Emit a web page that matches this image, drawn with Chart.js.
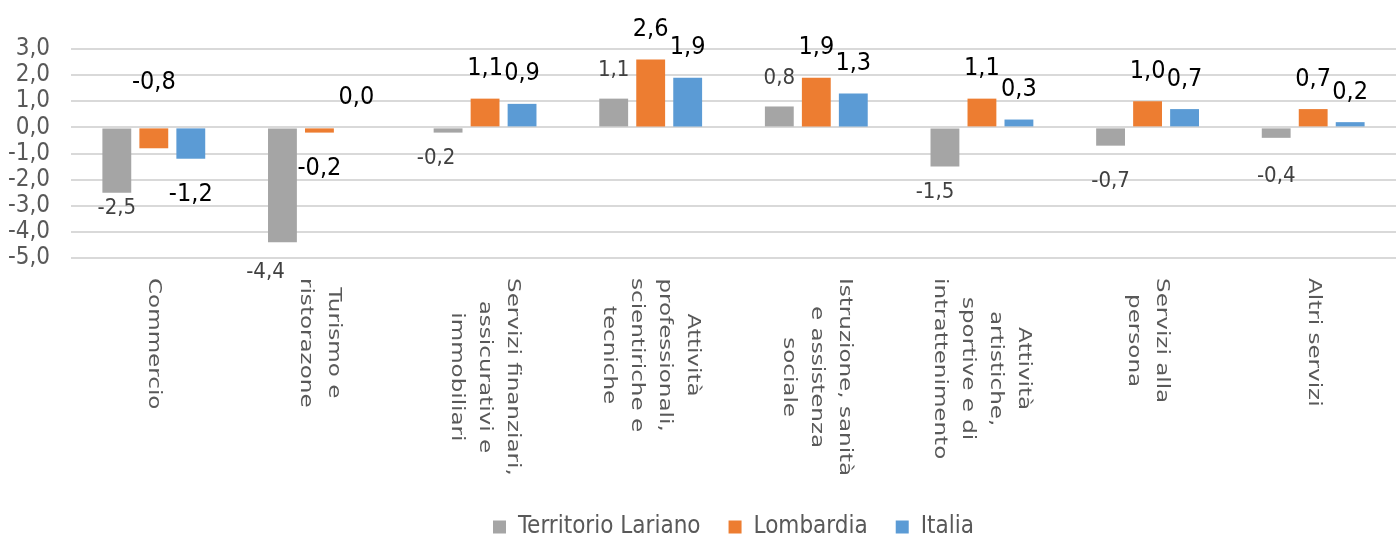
<!DOCTYPE html>
<html><head><meta charset="utf-8">
<script src="https://cdn.jsdelivr.net/npm/chart.js@4"></script>
<style>html,body{margin:0;padding:0;background:#fff;overflow:hidden}</style>
</head><body>
<canvas id="c" width="1396" height="537" style="width:1396px;height:537px;display:block"></canvas>
<script>
// ---- data ----
const categories = [
  ['Commercio'],
  ['Turismo e', 'ristorazone'],
  ['Servizi finanziari,', 'assicurativi e', 'immobiliari'],
  ['Attività', 'professionali,', 'scientiriche e', 'tecniche'],
  ['Istruzione, sanità', 'e assistenza', 'sociale'],
  ['Attività', 'artistiche,', 'sportive e di', 'intrattenimento'],
  ['Servizi alla', 'persona'],
  ['Altri servizi']
];
const seriesNames = ['Territorio Lariano', 'Lombardia', 'Italia'];
const territorioLariano = [-2.5, -4.4, -0.2, 1.1, 0.8, -1.5, -0.7, -0.4];
const lombardia = [-0.8, -0.2, 1.1, 2.6, 1.9, 1.1, 1.0, 0.7];
const italia = [-1.2, 0.0, 0.9, 1.9, 1.3, 0.3, 0.7, 0.2];
const yTicks = [3, 2, 1, 0, -1, -2, -3, -4, -5];

// ---- styles ----
const NARROW = "'Liberation Sans Narrow', 'Arial Narrow', 'DejaVu Sans Condensed', 'Liberation Sans', sans-serif";
const WIDE = "'DejaVu Sans', 'Open Sans', sans-serif";
const colors = ['#a5a5a5', '#ed7d31', '#5b9bd5'];
const fmt = v => (Math.round(v * 10) / 10).toFixed(1).replace('.', ',');

const catLabelPlugin = {
  id: 'catLabels',
  afterDraw(chart, args, opts) {
    const ctx = chart.ctx, xs = chart.scales.x;
    ctx.save();
    ctx.font = opts.font;
    ctx.fillStyle = opts.color;
    ctx.textAlign = 'center';
    ctx.textBaseline = 'middle';
    const top = chart.chartArea.bottom + opts.gap;
    categories.forEach((lines, i) => {
      const cx = xs.getPixelForTick(i);
      const w = Math.max(...lines.map(l => ctx.measureText(l).width)) * opts.stretch;
      ctx.save();
      ctx.translate(cx, top);
      ctx.rotate(Math.PI / 2);
      lines.forEach((l, j) => {
        ctx.save();
        ctx.translate(w / 2, (j - (lines.length - 1) / 2) * opts.lineHeight);
        ctx.scale(opts.stretch, 1);
        ctx.fillText(l, 0, 0);
        ctx.restore();
      });
      ctx.restore();
    });
    ctx.restore();
  }
};

const valueLabelPlugin = {
  id: 'valueLabels',
  afterDatasetsDraw(chart, args, opts) {
    const ctx = chart.ctx;
    chart.data.datasets.forEach((ds, di) => {
      const meta = chart.getDatasetMeta(di);
      const st = opts.styles[di];
      ctx.save();
      ctx.font = st.font;
      ctx.fillStyle = st.color;
      ctx.textAlign = 'center';
      ctx.textBaseline = 'middle';
      meta.data.forEach((el, i) => {
        const v = ds.data[i];
        const n = opts.nudges[di + '-' + i] || [0, 0];
        const y = v >= 0 ? el.y - st.above : el.y + st.below;
        ctx.fillText(fmt(v), el.x + n[0], y + n[1]);
      });
      ctx.restore();
    });
  }
};

const seriesData = [territorioLariano, lombardia, italia];

new Chart(document.getElementById('c'), {
  type: 'bar',
  data: {
    labels: categories,
    datasets: seriesNames.map((name, k) => ({
      label: name,
      data: seriesData[k],
      backgroundColor: colors[k],
      borderWidth: 0,
      categoryPercentage: 0.67,
      barPercentage: 0.78
    }))
  },
  options: {
    responsive: false,
    animation: false,
    devicePixelRatio: 1,
    layout: { padding: { top: 49, left: 0, right: 0, bottom: -12 } },
    scales: {
      x: {
        ticks: { display: false },
        grid: { display: false },
        border: { display: false },
        afterFit: s => { s.height = 229; }
      },
      y: {
        min: -5, max: 3,
        afterBuildTicks: s => { s.ticks = yTicks.map(v => ({ value: v })); },
        ticks: { autoSkip: false, callback: v => fmt(v), font: { family: NARROW, size: 24 }, color: '#595959', padding: 21 },
        grid: { color: '#d9d9d9', lineWidth: 2, drawTicks: false },
        border: { display: false },
        afterFit: s => { s.width = 71; }
      }
    },
    plugins: {
      tooltip: { enabled: false },
      legend: {
        position: 'bottom',
        fullSize: false,
        labels: {
          boxWidth: 13, boxHeight: 13, padding: 28,
          font: { family: NARROW, size: 24 }, color: '#595959'
        }
      },
      catLabels: { font: '18px ' + WIDE, color: '#595959', lineHeight: 28, gap: 20, stretch: 1.28 },
      valueLabels: {
        styles: [
          { font: '22px ' + NARROW, color: '#404040', above: 28, below: 26 },
          { font: '25px ' + NARROW, color: '#000000', above: 30, below: 36 },
          { font: '25px ' + NARROW, color: '#000000', above: 30, below: 36 }
        ],
        nudges: {
          '0-0': [0, -10], '0-1': [-17, 4], '0-2': [-12, 0], '0-5': [-10, 0],
          '0-6': [0, 10], '0-7': [0, 12], '1-0': [0, -102]
        }
      }
    }
  },
  plugins: [catLabelPlugin, valueLabelPlugin]
});
</script>
</body></html>
